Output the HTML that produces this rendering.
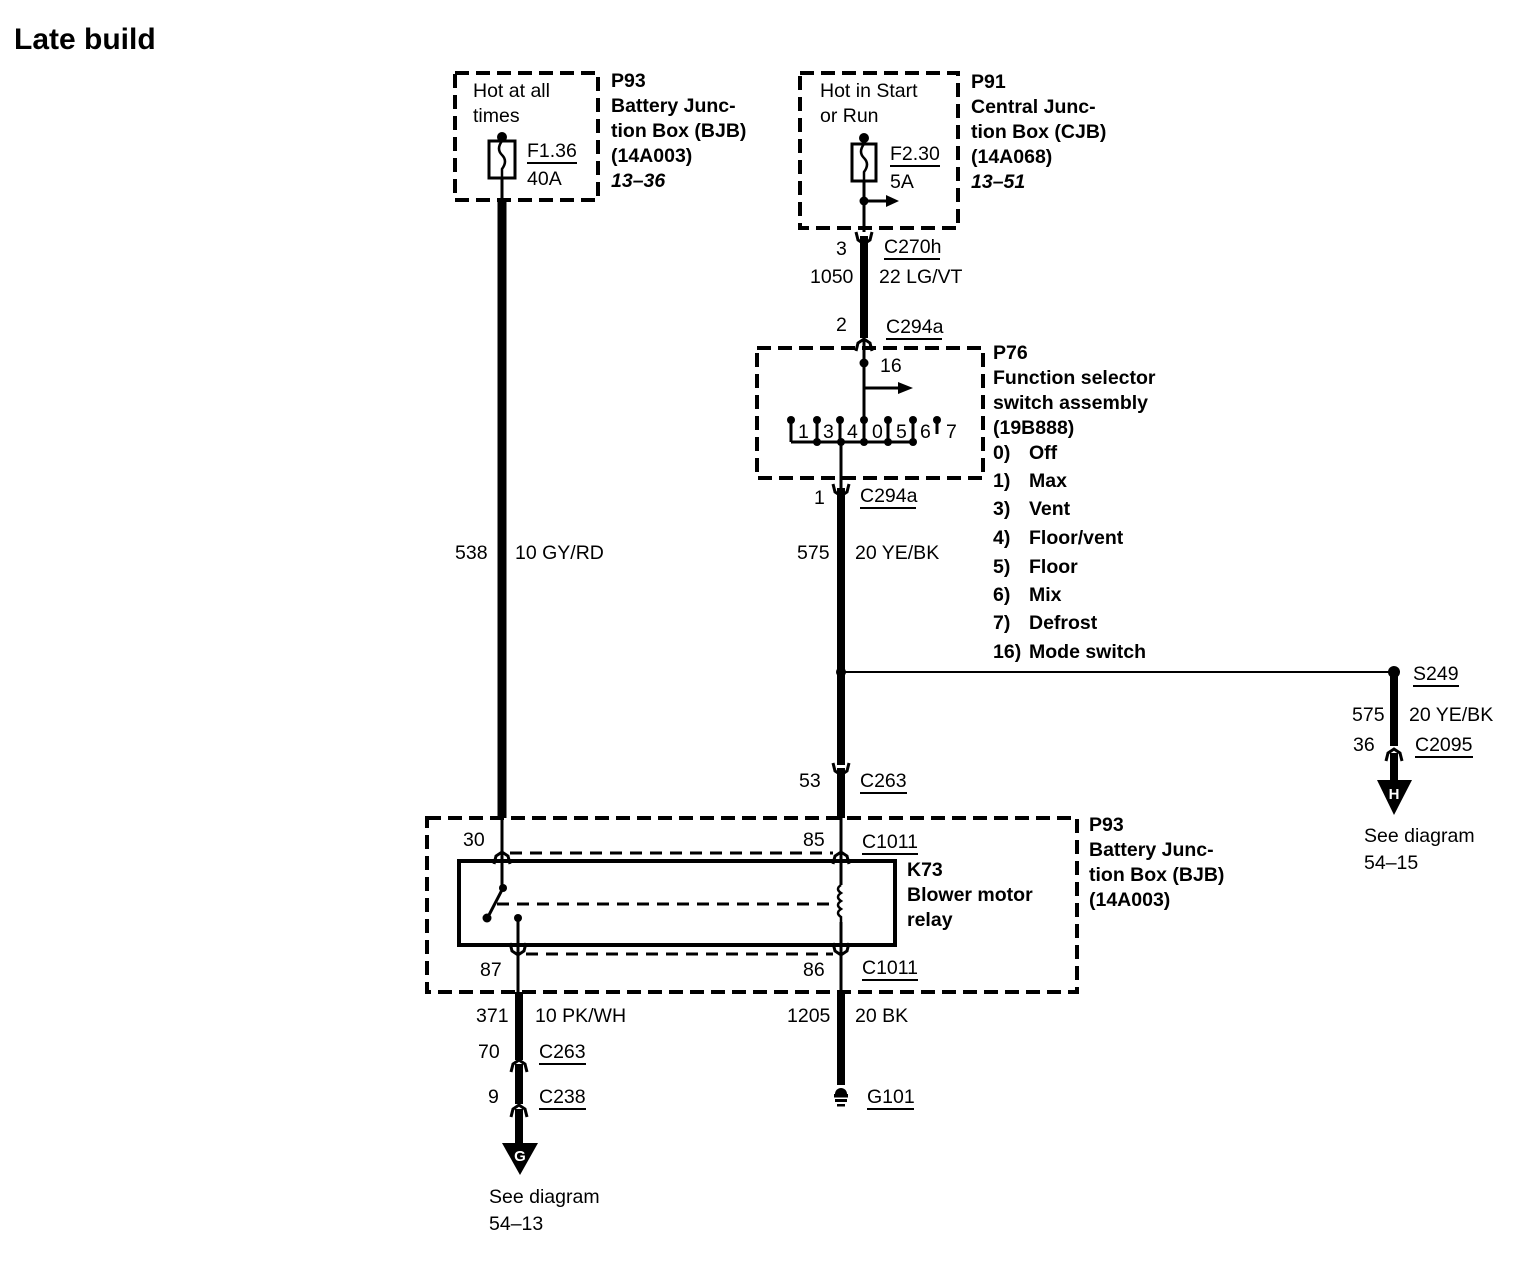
<!DOCTYPE html>
<html><head><meta charset="utf-8"><style>
html,body{margin:0;padding:0;background:#fff;}
svg{display:block;}
text{font-family:"Liberation Sans",Arial,sans-serif;font-size:19.5px;fill:#000;}
.b{font-weight:bold;}
</style></head><body>
<svg width="1518" height="1264" viewBox="0 0 1518 1264" xmlns="http://www.w3.org/2000/svg">
<defs>
<g id="up"><path d="M-8,8 L-6,0 L0,-4 L6,0 L8,8" fill="none" stroke="#000" stroke-width="3"/></g>
<g id="dn"><path d="M-8,-8 L-6,0 L0,4 L6,0 L8,-8" fill="none" stroke="#000" stroke-width="3"/></g>
</defs>
<text x="14" y="49" class="b" style="font-size:30px">Late build</text>

<!-- Box 1 -->
<rect x="455" y="73" width="143" height="127" fill="none" stroke="#000" stroke-width="4" stroke-dasharray="14,7"/>
<text x="473" y="97">Hot at all</text><text x="473" y="122">times</text>
<circle cx="502" cy="137" r="5"/>
<line x1="502" y1="137" x2="502" y2="200" stroke="#000" stroke-width="3"/>
<rect x="489" y="141" width="26" height="37" fill="#fff" stroke="#000" stroke-width="3"/>
<path d="M502,141 q-6,8 0,14 q6,6 0,14 v9" fill="none" stroke="#000" stroke-width="2.5"/>
<text x="527" y="157">F1.36</text><line x1="527" y1="163" x2="577" y2="163" stroke="#000" stroke-width="2"/>
<text x="527" y="185">40A</text>
<text x="611" y="87" class="b">P93</text><text x="611" y="112" class="b">Battery Junc-</text><text x="611" y="137" class="b">tion Box (BJB)</text><text x="611" y="162" class="b">(14A003)</text><text x="611" y="187" class="b" font-style="italic">13–36</text>
<line x1="502" y1="200" x2="502" y2="818" stroke="#000" stroke-width="9"/>
<text x="455" y="559">538</text><text x="515" y="559">10 GY/RD</text>

<!-- Box 2 -->
<rect x="800" y="73" width="158" height="155" fill="none" stroke="#000" stroke-width="4" stroke-dasharray="14,7"/>
<text x="820" y="97">Hot in Start</text><text x="820" y="122">or Run</text>
<circle cx="864" cy="138" r="5"/>
<line x1="864" y1="138" x2="864" y2="232" stroke="#000" stroke-width="3"/>
<rect x="852" y="144" width="24" height="37" fill="#fff" stroke="#000" stroke-width="3"/>
<path d="M864,144 q-6,8 0,14 q6,6 0,14 v9" fill="none" stroke="#000" stroke-width="2.5"/>
<circle cx="864" cy="201" r="4.5"/>
<line x1="864" y1="201" x2="888" y2="201" stroke="#000" stroke-width="3"/>
<polygon points="886,195 899,201 886,207"/>
<text x="890" y="160">F2.30</text><line x1="890" y1="166" x2="940" y2="166" stroke="#000" stroke-width="2"/>
<text x="890" y="188">5A</text>
<text x="971" y="88" class="b">P91</text><text x="971" y="113" class="b">Central Junc-</text><text x="971" y="138" class="b">tion Box (CJB)</text><text x="971" y="163" class="b">(14A068)</text><text x="971" y="188" class="b" font-style="italic">13–51</text>
<use href="#dn" x="864" y="240"/>
<line x1="864" y1="236" x2="864" y2="338" stroke="#000" stroke-width="8"/>
<use href="#up" x="864" y="343"/>
<text x="836" y="255">3</text><text x="884" y="253">C270h</text><line x1="884" y1="259" x2="940" y2="259" stroke="#000" stroke-width="2"/>
<text x="810" y="283">1050</text><text x="879" y="283">22 LG/VT</text>
<text x="836" y="331">2</text><text x="886" y="333">C294a</text><line x1="886" y1="339" x2="942" y2="339" stroke="#000" stroke-width="2"/>

<!-- P76 -->
<rect x="757" y="348" width="226" height="130" fill="none" stroke="#000" stroke-width="4" stroke-dasharray="14,7"/>
<line x1="864" y1="340" x2="864" y2="420" stroke="#000" stroke-width="3"/>
<circle cx="864" cy="363" r="4.5"/>
<line x1="864" y1="388" x2="900" y2="388" stroke="#000" stroke-width="3"/>
<polygon points="898,382 913,388 898,394"/>
<text x="880" y="372">16</text>
<g stroke="#000" stroke-width="3">
<line x1="791" y1="420" x2="791" y2="442"/><line x1="817" y1="420" x2="817" y2="442"/><line x1="840" y1="420" x2="840" y2="442"/><line x1="864" y1="420" x2="864" y2="442"/><line x1="888" y1="420" x2="888" y2="442"/><line x1="913" y1="420" x2="913" y2="442"/><line x1="937" y1="420" x2="937" y2="434"/>
<line x1="791" y1="442" x2="913" y2="442"/>
<line x1="841" y1="442" x2="841" y2="488"/>
</g>
<g><circle cx="791" cy="420" r="4"/><circle cx="817" cy="420" r="4"/><circle cx="840" cy="420" r="4"/><circle cx="864" cy="420" r="4"/><circle cx="888" cy="420" r="4"/><circle cx="913" cy="420" r="4"/><circle cx="937" cy="420" r="4"/>
<circle cx="817" cy="442" r="4"/><circle cx="864" cy="442" r="4"/><circle cx="888" cy="442" r="4"/><circle cx="913" cy="442" r="4"/><circle cx="841" cy="442" r="4"/></g>
<text x="798" y="438">1</text><text x="823" y="438">3</text><text x="847" y="438">4</text><text x="872" y="438">0</text><text x="896" y="438">5</text><text x="920" y="438">6</text><text x="946" y="438">7</text>
<text x="993" y="359" class="b">P76</text><text x="993" y="384" class="b">Function selector</text><text x="993" y="409" class="b">switch assembly</text><text x="993" y="434" class="b">(19B888)</text>
<text x="993" y="459" class="b">0)</text><text x="1029" y="459" class="b">Off</text>
<text x="993" y="487" class="b">1)</text><text x="1029" y="487" class="b">Max</text>
<text x="993" y="515" class="b">3)</text><text x="1029" y="515" class="b">Vent</text>
<text x="993" y="544" class="b">4)</text><text x="1029" y="544" class="b">Floor/vent</text>
<text x="993" y="573" class="b">5)</text><text x="1029" y="573" class="b">Floor</text>
<text x="993" y="601" class="b">6)</text><text x="1029" y="601" class="b">Mix</text>
<text x="993" y="629" class="b">7)</text><text x="1029" y="629" class="b">Defrost</text>
<text x="993" y="658" class="b">16)</text><text x="1029" y="658" class="b">Mode switch</text>
<use href="#dn" x="841" y="492"/>
<line x1="841" y1="488" x2="841" y2="765" stroke="#000" stroke-width="8"/>
<text x="814" y="504">1</text><text x="860" y="502">C294a</text><line x1="860" y1="508" x2="916" y2="508" stroke="#000" stroke-width="2"/>
<text x="797" y="559">575</text><text x="855" y="559">20 YE/BK</text>

<!-- splice -->
<line x1="841" y1="672" x2="1394" y2="672" stroke="#000" stroke-width="2"/>
<circle cx="841" cy="672" r="5"/>
<circle cx="1394" cy="672" r="6"/>
<line x1="1394" y1="676" x2="1394" y2="746" stroke="#000" stroke-width="8"/>
<use href="#up" x="1394" y="753"/>
<line x1="1394" y1="753" x2="1394" y2="785" stroke="#000" stroke-width="8"/>
<polygon points="1377,780 1412,780 1394,815"/>
<text x="1394" y="799" text-anchor="middle" class="b" style="font-size:15px;fill:#fff">H</text>
<text x="1413" y="680">S249</text><line x1="1413" y1="686" x2="1459" y2="686" stroke="#000" stroke-width="2"/>
<text x="1352" y="721">575</text><text x="1409" y="721">20 YE/BK</text>
<text x="1353" y="751">36</text><text x="1415" y="751">C2095</text><line x1="1415" y1="757" x2="1473" y2="757" stroke="#000" stroke-width="2"/>
<text x="1364" y="842">See diagram</text><text x="1364" y="869">54–15</text>
<use href="#dn" x="841" y="771"/>
<line x1="841" y1="768" x2="841" y2="818" stroke="#000" stroke-width="8"/>
<text x="799" y="787">53</text><text x="860" y="787">C263</text><line x1="860" y1="793" x2="907" y2="793" stroke="#000" stroke-width="2"/>

<!-- BJB box -->
<rect x="427" y="818" width="650" height="174" fill="none" stroke="#000" stroke-width="4" stroke-dasharray="14,7"/>
<text x="1089" y="831" class="b">P93</text><text x="1089" y="856" class="b">Battery Junc-</text><text x="1089" y="881" class="b">tion Box (BJB)</text><text x="1089" y="906" class="b">(14A003)</text>
<text x="463" y="846">30</text><text x="803" y="846">85</text>
<text x="862" y="848">C1011</text><line x1="862" y1="854" x2="918" y2="854" stroke="#000" stroke-width="2"/>
<line x1="510" y1="853" x2="833" y2="853" stroke="#000" stroke-width="3" stroke-dasharray="12,8"/>
<line x1="502" y1="818" x2="502" y2="887" stroke="#000" stroke-width="3"/>
<use href="#up" x="502" y="856"/>
<line x1="841" y1="818" x2="841" y2="885" stroke="#000" stroke-width="3"/>
<use href="#up" x="841" y="856"/>
<rect x="459" y="861" width="436" height="84" fill="none" stroke="#000" stroke-width="4"/>
<circle cx="503" cy="888" r="4"/>
<line x1="503" y1="888" x2="489" y2="915" stroke="#000" stroke-width="3"/>
<circle cx="487" cy="918" r="4.5"/>
<line x1="497" y1="904" x2="836" y2="904" stroke="#000" stroke-width="3" stroke-dasharray="12,8"/>
<circle cx="518" cy="918" r="4"/>
<line x1="518" y1="918" x2="518" y2="992" stroke="#000" stroke-width="3"/>
<path d="M841,885 q-6,4 0,8 q-6,4 0,8 q-6,4 0,8 q-6,4 0,8 v5" fill="none" stroke="#000" stroke-width="2.5"/>
<line x1="841" y1="922" x2="841" y2="992" stroke="#000" stroke-width="3"/>
<line x1="526" y1="954" x2="833" y2="954" stroke="#000" stroke-width="3" stroke-dasharray="12,8"/>
<use href="#dn" x="518" y="951"/><use href="#dn" x="841" y="951"/>
<text x="907" y="876" class="b">K73</text><text x="907" y="901" class="b">Blower motor</text><text x="907" y="926" class="b">relay</text>
<text x="480" y="976">87</text><text x="803" y="976">86</text>
<text x="862" y="974">C1011</text><line x1="862" y1="980" x2="918" y2="980" stroke="#000" stroke-width="2"/>

<!-- bottom -->
<line x1="519" y1="992" x2="519" y2="1060" stroke="#000" stroke-width="8"/>
<use href="#up" x="519" y="1064"/>
<line x1="519" y1="1064" x2="519" y2="1104" stroke="#000" stroke-width="8"/>
<use href="#up" x="519" y="1109"/>
<line x1="519" y1="1109" x2="519" y2="1148" stroke="#000" stroke-width="8"/>
<polygon points="502,1143 538,1143 520,1175"/>
<text x="520" y="1161" text-anchor="middle" class="b" style="font-size:15px;fill:#fff">G</text>
<text x="476" y="1022">371</text><text x="535" y="1022">10 PK/WH</text>
<text x="478" y="1058">70</text><text x="539" y="1058">C263</text><line x1="539" y1="1064" x2="586" y2="1064" stroke="#000" stroke-width="2"/>
<text x="488" y="1103">9</text><text x="539" y="1103">C238</text><line x1="539" y1="1109" x2="586" y2="1109" stroke="#000" stroke-width="2"/>
<text x="489" y="1203">See diagram</text><text x="489" y="1230">54–13</text>
<line x1="841" y1="992" x2="841" y2="1085" stroke="#000" stroke-width="8"/>
<path d="M835,1094 a6,6 0 0 1 12,0 z" />
<rect x="834" y="1094" width="14" height="3.5"/><rect x="835" y="1099" width="12" height="3"/><rect x="837" y="1104" width="8" height="2.5"/>
<text x="867" y="1103">G101</text><line x1="867" y1="1109" x2="914" y2="1109" stroke="#000" stroke-width="2"/>
<text x="787" y="1022">1205</text><text x="855" y="1022">20 BK</text>
</svg>
</body></html>
